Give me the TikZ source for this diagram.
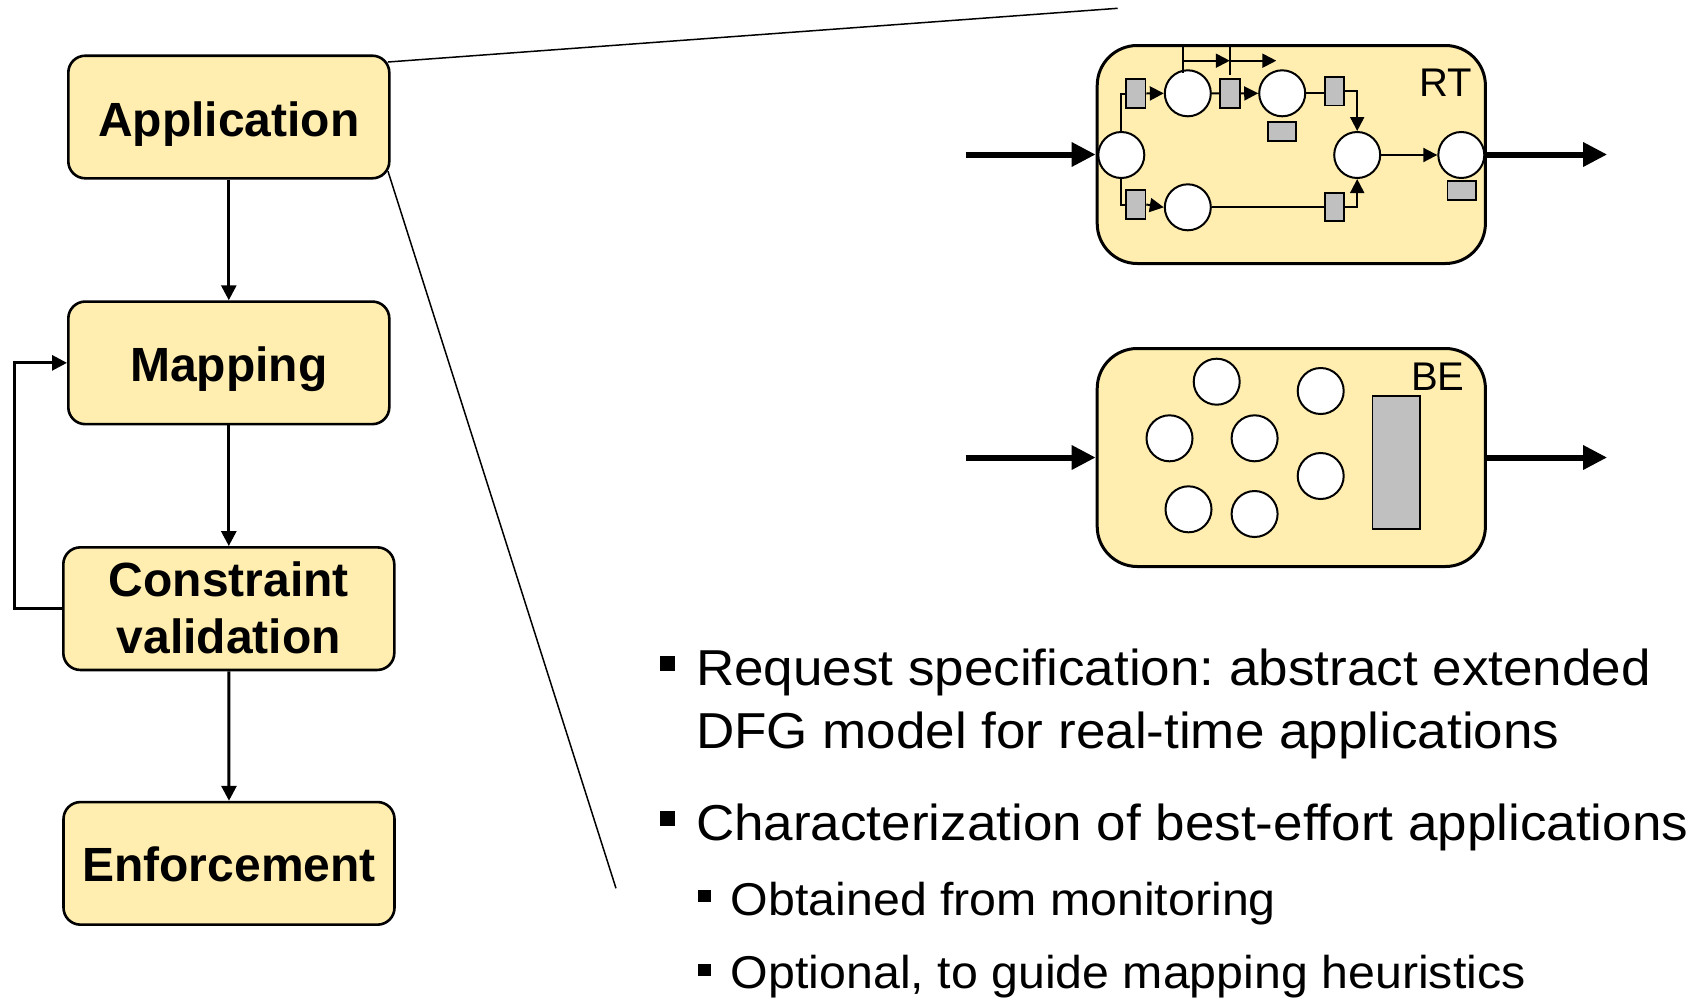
\documentclass[tikz,border=0pt]{standalone}
\usepackage{fontspec}
\setmainfont{Liberation Sans}
\newfontfamily\bodyfont[FakeStretch=1.05]{Liberation Sans}
\usetikzlibrary{arrows.meta}
\definecolor{boxfill}{RGB}{255,238,175}
\definecolor{chip}{RGB}{192,192,192}
\frenchspacing

\begin{document}
\begin{tikzpicture}[x=1pt,y=-1pt,
  flowbox/.style={draw, line width=2.6pt, fill=boxfill, rounded corners=17pt, inner sep=0pt, minimum height=122.6pt},
  flowtext/.style={inner sep=0pt, anchor=base, font=\fontsize{48}{57}\selectfont\bfseries},
  flowarrow/.style={line width=3pt, -{Triangle[length=15pt,width=15pt]}},
  zoomline/.style={line width=1.5pt},
  netbox/.style={draw, line width=3pt, fill=boxfill, rounded corners=40pt, minimum width=388.2pt, minimum height=218pt, inner sep=0pt},
  place/.style={circle, draw, line width=2pt, fill=white, minimum size=46pt, inner sep=0pt},
  trans/.style={rectangle, draw, line width=1.8pt, fill=chip, minimum width=19.6pt, minimum height=28.4pt, inner sep=0pt},
  token/.style={rectangle, draw, line width=1.8pt, fill=chip, minimum width=28.6pt, minimum height=19pt, inner sep=0pt},
  netarc/.style={line width=2pt},
  netarrow/.style={netarc, -{Triangle[length=14pt,width=14pt]}},
  bigarrow/.style={line width=6pt, -{Triangle[length=24pt,width=23pt]}},
  tag/.style={inner sep=0pt, anchor=base west, font=\fontsize{40}{48}\selectfont},
  bulletsq/.style={fill=black, inner sep=0pt, minimum size=15pt},
  subbulletsq/.style={fill=black, inner sep=0pt, minimum size=12.5pt},
  bodytext/.style={inner sep=0pt, anchor=base west, font=\bodyfont\fontsize{50.5}{60}\selectfont},
  subtext/.style={inner sep=0pt, anchor=base west, font=\bodyfont\fontsize{46}{55}\selectfont},
]
\fill[white] (0,0) rectangle (1705,999);
\useasboundingbox (0,0) rectangle (1705,999);

% ---------- flow on the left ----------
\node[flowbox, minimum width=321pt] (app) at (228.8,117) {};
\node[flowbox, minimum width=321pt] (map) at (228.8,362.85) {};
\node[flowbox, minimum width=331pt] (cv)  at (228.8,608.65) {};
\node[flowbox, minimum width=331pt] (enf) at (229,863.35) {};

\node[flowtext] (appL) at (228.8,136) {Application};
\node[flowtext] (mapL) at (228.8,381.7) {Mapping};
\node[flowtext] (cvL1) at (228.8,596.7) {Constraint};
\node[flowtext] (cvL2) at (228.8,653.3) {validation};
\node[flowtext] (enfL) at (229,881.7) {Enforcement};

\draw[flowarrow] (app.south) -- (map.north);
\draw[flowarrow] (map.south) -- (cv.north);
\draw[flowarrow] (cv.south) -- (enf.north);
\coordinate (loop) at (14,608.65);
\draw[flowarrow] (cv.west) -- (loop) |- (map.west);

% ---------- zoom lines ----------
\coordinate (zoomTop) at (1117.7,8.3);
\coordinate (zoomBot) at (616,888.3);
\draw[zoomline] ([shift={(-2.6,7.6)}]app.north east) -- (zoomTop);
\draw[zoomline] ([shift={(-2.6,-8.3)}]app.south east) -- (zoomBot);

% ---------- real-time application ----------
\node[netbox] (rt) at (1291.3,154.5) {};
\node[tag] (rtL) at (1419.6,96.7) {RT};

\node[place] (p1) at (1121.3,155) {};
\node[place] (p2) at (1187.8,93.3) {};
\node[place] (p3) at (1282.2,93.3) {};
\node[place] (p4) at (1187.8,207.3) {};
\node[place] (p5) at (1357.2,155) {};
\node[place] (p6) at (1461.3,155) {};

\node[trans] (t1) at (1135.6,93.5) {};
\node[trans] (t2) at (1229.9,93.5) {};
\node[trans] (t3) at (1334.5,91.3) {};
\node[trans] (t4) at (1135.6,204.5) {};
\node[trans] (t5) at (1334.5,206.8) {};

\node[token] (k3) at (1282,131.5) {};
\node[token] (k6) at (1461.8,190.7) {};

\draw[netarc] (p1.north) |- (t1.west);
\draw[netarrow] (t1.east) -- (p2.west);
\draw[netarc] (p2.east) -- (t2.west);
\draw[netarrow] (t2.east) -- (p3.west);
\draw[netarc] (p3.east) -- (p3.east -| t3.west);
\draw[netarrow] (t3.east) -| (p5.north);
\draw[netarc] (p1.south) |- (t4.west);
\draw[netarrow] (t4.east) -- (p4.west);
\draw[netarc] (p4.east) -- (p4.east -| t5.west);
\draw[netarrow] (t5.east) -| (p5.south);
\draw[netarrow] (p5.east) -- (p6.west);

% timing marks along the top edge
\coordinate (m1top) at (1182.6,46.7);
\coordinate (m1bot) at (1182.6,73.3);
\coordinate (m1mid) at (1182.6,60.7);
\coordinate (m2top) at (1229.8,46.7);
\coordinate (m2bot) at (1229.8,75);
\coordinate (m2mid) at (1229.8,60.7);
\coordinate (m3end) at (1276.3,60.7);
\draw[netarc] (m1top) -- (m1bot);
\draw[netarc] (m2top) -- (m2bot);
\draw[netarrow] (m1mid) -- (m2mid);
\draw[netarrow] (m2mid) -- (m3end);

\coordinate (rtIn) at (965.6,154.5);
\coordinate (rtOut) at (1607.2,154.5);
\draw[bigarrow] (rtIn) -- (rt.west);
\draw[bigarrow] (rt.east) -- (rtOut);

% ---------- best-effort application ----------
\node[netbox] (be) at (1291.3,457.5) {};
\node[tag] (beL) at (1410.8,390) {BE};

\node[place] (b1) at (1216.7,381.7) {};
\node[place] (b2) at (1320.7,391) {};
\node[place] (b3) at (1169.5,438.3) {};
\node[place] (b4) at (1254.6,438.3) {};
\node[place] (b5) at (1320.7,476) {};
\node[place] (b6) at (1188.5,509.3) {};
\node[place] (b7) at (1254.6,514) {};
\node[rectangle, draw, line width=1.8pt, fill=chip, minimum width=47.5pt, minimum height=132.7pt, inner sep=0pt] (bres) at (1396.2,462.4) {};

\coordinate (beIn) at (965.6,457.5);
\coordinate (beOut) at (1607.2,457.5);
\draw[bigarrow] (beIn) -- (be.west);
\draw[bigarrow] (be.east) -- (beOut);

% ---------- bullet list ----------
\node[bulletsq] (s1) at (667.5,663.5) {};
\node[bodytext] (r1a) at (695.8,685.5) {Request specification: abstract extended};
\node[bodytext] (r1b) at (695.8,748.5) {DFG model for real-time applications};
\node[bulletsq] (s2) at (667.5,818.5) {};
\node[bodytext] (r2) at (695.8,840) {Characterization of best-effort applications};
\node[subbulletsq] (s3) at (704.5,896) {};
\node[subtext] (r3) at (730.7,915) {Obtained from monitoring};
\node[subbulletsq] (s4) at (704.5,970) {};
\node[subtext] (r4) at (730.7,988) {Optional, to guide mapping heuristics};
\end{tikzpicture}
\end{document}
